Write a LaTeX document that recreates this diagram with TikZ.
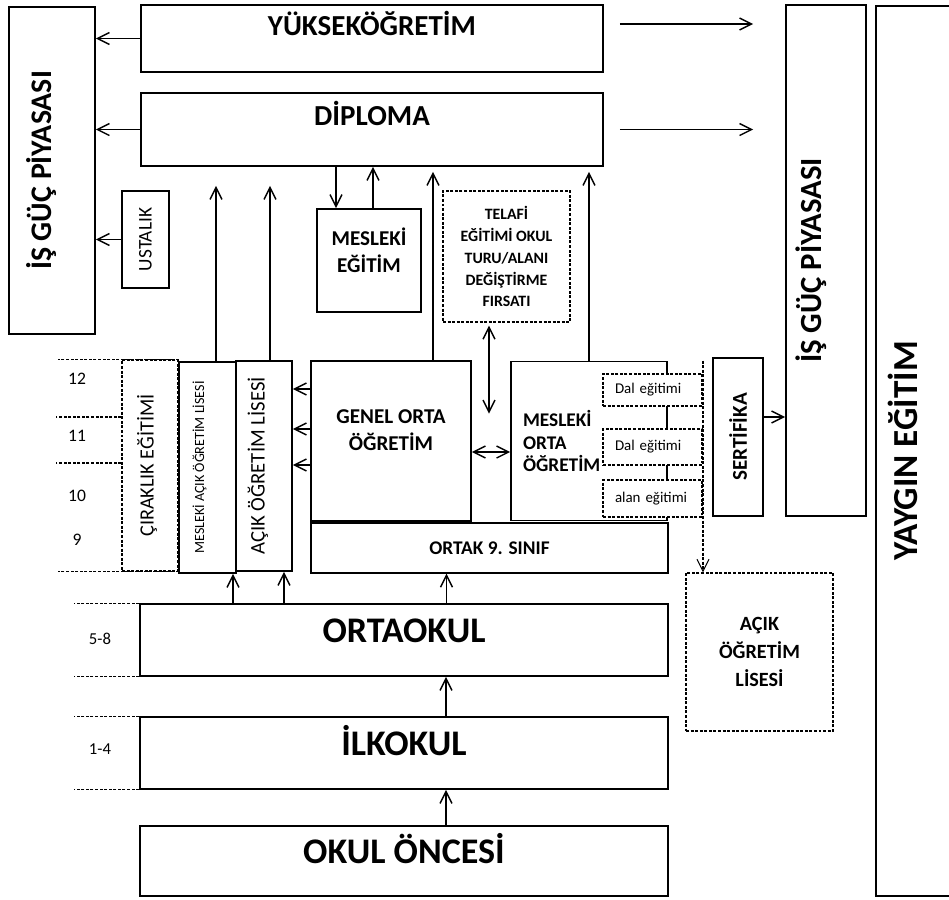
\documentclass[tikz,border=0pt]{standalone}
\usepackage{fontspec}
\setmainfont{Carlito}
\usetikzlibrary{arrows.meta, positioning}

\newcommand{\sidetext}[2]{\rotatebox{90}{\raisebox{#1}[\height][\depth]{#2}}}

\begin{document}
\begin{tikzpicture}[
    x=0.2mm, y=-0.2mm,
    box/.style={
        rectangle,
        draw=black,
        line width=1pt,
        fill=white,
        inner sep=0pt,
        align=center
    },
    dbox/.style={
        box,
        line width=0.7pt,
        dash pattern=on 1.7pt off 0.9pt
    },
    dal/.style={
        dbox,
        minimum width=19.8mm,
        text width=15mm,
        inner xsep=2.4mm,
        align=left,
        font=\fontsize{8.5}{10}\selectfont
    },
    bigtext/.style={font=\bfseries\fontsize{20.5}{23}\selectfont, text height=0.75em, text depth=0.45em},
    toptext/.style={font=\bfseries\fontsize{16.5}{19}\selectfont},
    midtext/.style={font=\bfseries\fontsize{12}{15.4}\selectfont, align=center},
    grade/.style={font=\fontsize{10}{12}\selectfont},
    gradeline/.style={line width=0.6pt, dash pattern=on 1.7pt off 0.9pt},
    arrow/.style={
        line width=0.8pt,
        -{Straight Barb[length=2.4mm, width=2.4mm]}
    },
    twoway/.style={
        line width=0.8pt,
        {Straight Barb[length=2.4mm, width=2.4mm]}-{Straight Barb[length=2.4mm, width=2.4mm]}
    }
]
    \useasboundingbox (0,0) rectangle (949,900);

    % Upper blocks
    \node [box, minimum width=17.2mm, minimum height=65.4mm, font=\bfseries\fontsize{17}{20}\selectfont] (isgucL) at (52,170.5) {\sidetext{2mm}{İŞ GÜÇ PİYASASI}};
    \node [box, minimum width=92.4mm, minimum height=13.4mm,
        label={[toptext, anchor=base, yshift=-6.2mm]north:YÜKSEKÖĞRETİM}] (yuksek) at (372,38.5) {};
    \node [box, minimum width=92.4mm, minimum height=14.6mm, below=3.85mm of yuksek,
        label={[toptext, anchor=base, yshift=-6.6mm]north:DİPLOMA}] (diploma) {};
    \node [box, minimum width=9.4mm, minimum height=19.4mm, font=\fontsize{11}{13}\selectfont] (ustalik) at (145.5,239.5) {\sidetext{0mm}{USTALIK}};
    \node [box, minimum width=20.8mm, minimum height=20.6mm,
        label={[midtext, yshift=2.1mm]center:MESLEKİ\\EĞİTİM}] (mesEgitim) at (369,260.5) {};
    \node [dbox, minimum width=25.4mm, minimum height=26.2mm, font=\bfseries\fontsize{9}{12.5}\selectfont] (telafi) at (506.5,256.5) {TELAFİ\\EĞİTİMİ OKUL\\TURU/ALANI\\DEĞİŞTİRME\\FIRSATI};
    \node [box, minimum width=16mm, minimum height=102.2mm, font=\bfseries\fontsize{17.5}{20}\selectfont] (isgucR) at (826,260.5) {\sidetext{3mm}{İŞ GÜÇ PİYASASI}};

    % Yaygin egitim
    \draw [line width=1pt] (949,6) -| (876,896) -- (949,896);
    \node [font=\bfseries\fontsize{20}{24}\selectfont] (yaygin) at (903,451) {\rotatebox{90}{YAYGIN EĞİTİM}};

    % Secondary level
    \node [dbox, minimum width=11.2mm, minimum height=42.2mm, font=\fontsize{11.5}{13}\selectfont] (cirak) at (150,465.5) {\sidetext{0.6mm}{ÇIRAKLIK EĞİTİMİ}};
    \node [box, minimum width=11.4mm, minimum height=42.2mm, font=\fontsize{8}{9}\selectfont] (macik) at (207.5,467.5) {\sidetext{1.6mm}{MESLEKİ AÇIK ÖĞRETİM LİSESİ}};
    \node [box, minimum width=11.2mm, minimum height=42mm, font=\fontsize{11.8}{13}\selectfont] (acik) at (264,466) {\sidetext{1.2mm}{AÇIK ÖĞRETİM LİSESİ}};
    \node [box, minimum width=32mm, minimum height=32mm,
        label={[midtext, yshift=2.2mm]center:GENEL ORTA\\ÖĞRETİM}] (genel) at (391,441) {};
    \node [box, minimum width=71.4mm, minimum height=10mm, anchor=north west, font=\bfseries\fontsize{11}{13}\selectfont] (ortak) at (genel.south west) {ORTAK 9. SINIF};
    \node [box, minimum width=31.2mm, minimum height=31.8mm, right=7.65mm of genel, text width=26.4mm, inner xsep=2.4mm, align=left, font=\bfseries\fontsize{11}{12.8}\selectfont] (mesOrta) {MESLEKİ\\ORTA\\ÖĞRETİM};
    \node [dal, minimum height=6.4mm] (dal1) at (652.5,390) {Dal eğitimi};
    \node [dal, minimum height=7.2mm] (dal2) at (652.5,447) {Dal eğitimi};
    \node [dal, minimum height=7.4mm] (alan) at (652.5,498.5) {alan eğitimi};
    \node [box, minimum width=10mm, minimum height=31.6mm, font=\bfseries\fontsize{12}{14}\selectfont] (sertifika) at (738,437) {\sidetext{0mm}{SERTİFİKA}};
    \node [dbox, minimum width=29.4mm, minimum height=31.6mm, font=\bfseries\fontsize{11.5}{16}\selectfont] (aogl) at (759.5,652) {AÇIK\\ÖĞRETİM\\LİSESİ};

    % Basic education
    \node [box, bigtext, minimum width=105.6mm, minimum height=14.4mm] (ortaokul) at (404,640) {ORTAOKUL};
    \node [box, bigtext, minimum width=105.6mm, minimum height=14.4mm, below=7.85mm of ortaokul] (ilkokul) {İLKOKUL};
    \node [box, bigtext, minimum width=105.6mm, minimum height=14mm, below=7.05mm of ilkokul] (okulOncesi) {OKUL ÖNCESİ};

    % Grades
    \node [grade] (g12) at (77,379) {12};
    \node [grade] (g11) at (77,436) {11};
    \node [grade] (g10) at (77,496) {10};
    \node [grade] (g9) at (77,540) {9};
    \node [grade, font=\fontsize{9.5}{11}\selectfont] (g58) at (100,639) {5-8};
    \node [grade, font=\fontsize{9.5}{11}\selectfont] (g14) at (100,749) {1-4};
    \draw [gradeline] (cirak.north east) -- ++(-121,0);
    \draw [gradeline] (cirak.south east) -- ++(-121,0);
    \draw [gradeline] ([yshift=9.7mm]cirak.west) -- ++(-65,0);
    \draw [gradeline] ([yshift=0.5mm]cirak.west) -- ++(-65,0);
    \foreach \n in {ortaokul, ilkokul} {
        \draw [gradeline] (\n.north west) -- ++(-65,0);
        \draw [gradeline] (\n.south west) -- ++(-65,0);
    }

    % Arrows
    \foreach \n in {yuksek, diploma, ustalik}
        \draw [arrow] (\n.west) -- (\n.west -| isgucL.east);
    \draw [arrow, shorten <=3.2mm, shorten >=6.4mm] ([yshift=2.9mm]yuksek.east) -- ([yshift=2.9mm]yuksek.east -| isgucR.west);
    \draw [arrow, shorten <=3.2mm, shorten >=6.4mm] (diploma.east) -- (diploma.east -| isgucR.west);
    \draw [arrow] ([xshift=-6.6mm]mesEgitim.north |- diploma.south) -- ([xshift=-6.6mm]mesEgitim.north);
    \draw [arrow] ([xshift=0.8mm]mesEgitim.north) -- ([xshift=0.8mm]mesEgitim.north |- diploma.south);
    \draw [arrow, shorten >=3.8mm] ([xshift=1.7mm]macik.north) -- ([xshift=1.7mm]macik.north |- diploma.south);
    \draw [arrow, shorten >=3.8mm] ([xshift=1.2mm]acik.north) -- ([xshift=1.2mm]acik.north |- diploma.south);
    \draw [arrow, shorten >=1mm] ([xshift=8.4mm]genel.north) -- ([xshift=8.4mm]genel.north |- diploma.south);
    \draw [arrow, shorten >=1mm] (mesOrta.north) -- (mesOrta.north |- diploma.south);
    \draw [twoway, shorten <=0.6mm] ([xshift=-3.5mm]telafi.south) -- ++(0,91);
    \draw [twoway] ([yshift=-2.2mm]genel.east) -- ([yshift=-2.2mm]genel.east -| mesOrta.west);
    \foreach \s in {10.4mm, 2.4mm, -4.8mm}
        \draw [arrow] ([yshift=\s]genel.west) -- ([yshift=\s]genel.west -| acik.east);
    \draw [arrow] ([xshift=5.1mm]macik.south |- ortaokul.north) -- ([xshift=5.1mm]macik.south);
    \draw [arrow] ([xshift=4mm]acik.south |- ortaokul.north) -- ([xshift=4mm]acik.south);
    \draw [arrow] ([xshift=-8.6mm]ortak.south |- ortaokul.north) -- ([xshift=-8.6mm]ortak.south);
    \draw [arrow] ([xshift=8.4mm]ilkokul.north) -- ([xshift=8.4mm]ortaokul.south);
    \draw [arrow] ([xshift=8.4mm]okulOncesi.north) -- ([xshift=8.4mm]ilkokul.south);
    \draw [arrow] ([yshift=4mm]sertifika.east) -- ([yshift=4mm]sertifika.east -| isgucR.west);
    \draw [arrow, gradeline] ([xshift=-11.3mm]aogl.north |- mesOrta.north) -- ([xshift=-11.3mm]aogl.north);
\end{tikzpicture}
\end{document}
